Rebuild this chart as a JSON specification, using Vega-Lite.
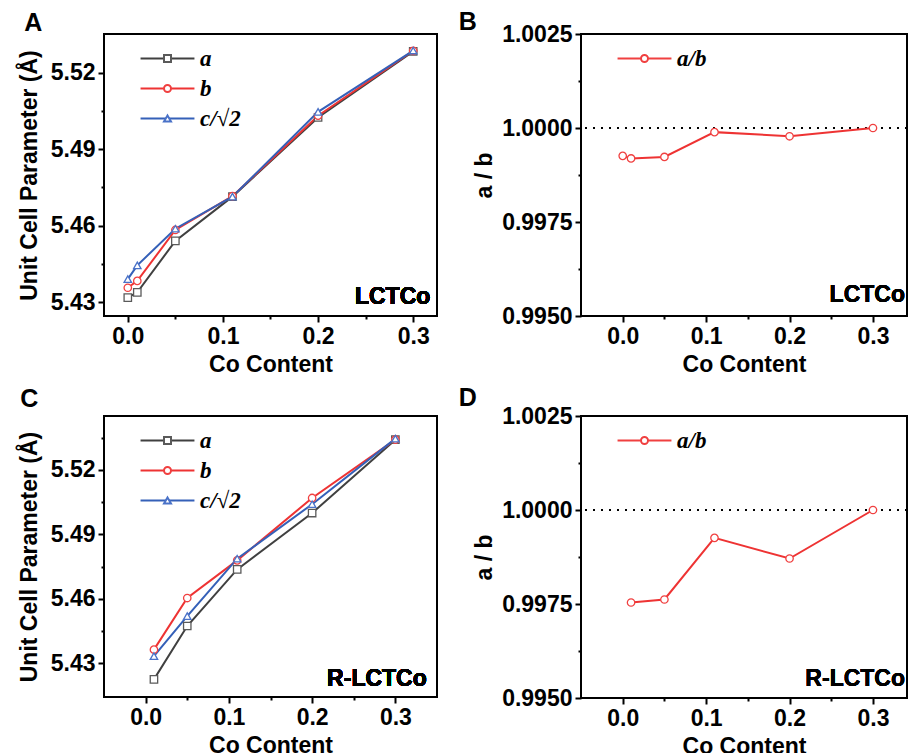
{
  "$schema": "https://vega.github.io/schema/vega-lite/v6.json",
  "padding": {"left": 17, "top": 9, "right": 0, "bottom": 0},
  "config": {
    "font": "Liberation Sans",
    "view": {"stroke": "black", "strokeWidth": 2},
    "axis": {"domain": false, "grid": false, "tickColor": "black", "tickWidth": 2, "tickSize": 6,
      "labelFont": "Liberation Sans", "labelFontSize": 23, "labelFontWeight": "bold", "labelColor": "black", "labelPadding": 3,
      "labelFlush": false, "labelOverlap": false,
      "titleFont": "Liberation Sans", "titleFontSize": 23, "titleFontWeight": "bold", "titleColor": "black"},
    "title": {"font": "Liberation Sans", "fontSize": 25, "fontWeight": "bold", "color": "black", "anchor": "start", "frame": "bounds"},
    "legend": {"orient": "none", "legendX": 52, "legendY": 13, "title": null, "labelFont": "Liberation Serif", "labelFontStyle": "italic",
      "labelFontWeight": "bold", "labelFontSize": 23, "labelColor": "black", "symbolSize": 49, "labelOffset": 21, "rowPadding": 6,
      "padding": 0, "symbolStrokeWidth": 2}
  },
  "datasets": {
    "lctco": [
      {"co": 0, "param": "a", "value": 5.4317}, {"co": 0.01, "param": "a", "value": 5.4338}, {"co": 0.05, "param": "a", "value": 5.454},
      {"co": 0.11, "param": "a", "value": 5.4714}, {"co": 0.2, "param": "a", "value": 5.5025}, {"co": 0.3, "param": "a", "value": 5.5285},
      {"co": 0, "param": "b", "value": 5.4356}, {"co": 0.01, "param": "b", "value": 5.4383}, {"co": 0.05, "param": "b", "value": 5.4583},
      {"co": 0.11, "param": "b", "value": 5.4716}, {"co": 0.2, "param": "b", "value": 5.5032}, {"co": 0.3, "param": "b", "value": 5.5287},
      {"co": 0, "param": "c/√2", "value": 5.439}, {"co": 0.01, "param": "c/√2", "value": 5.4444}, {"co": 0.05, "param": "c/√2", "value": 5.4588},
      {"co": 0.11, "param": "c/√2", "value": 5.4714}, {"co": 0.2, "param": "c/√2", "value": 5.5047}, {"co": 0.3, "param": "c/√2", "value": 5.5288}
    ],
    "rlctco": [
      {"co": 0.01, "param": "a", "value": 5.4226}, {"co": 0.05, "param": "a", "value": 5.4474}, {"co": 0.11, "param": "a", "value": 5.4737},
      {"co": 0.2, "param": "a", "value": 5.4999}, {"co": 0.3, "param": "a", "value": 5.534},
      {"co": 0.01, "param": "b", "value": 5.4364}, {"co": 0.05, "param": "b", "value": 5.4604}, {"co": 0.11, "param": "b", "value": 5.4779},
      {"co": 0.2, "param": "b", "value": 5.5069}, {"co": 0.3, "param": "b", "value": 5.534},
      {"co": 0.01, "param": "c/√2", "value": 5.4334}, {"co": 0.05, "param": "c/√2", "value": 5.452}, {"co": 0.11, "param": "c/√2", "value": 5.4787},
      {"co": 0.2, "param": "c/√2", "value": 5.504}, {"co": 0.3, "param": "c/√2", "value": 5.5345}
    ],
    "ratioA": [
      {"co": 0, "ratio": 0.99926}, {"co": 0.01, "ratio": 0.99919}, {"co": 0.05, "ratio": 0.99923},
      {"co": 0.11, "ratio": 0.99989}, {"co": 0.2, "ratio": 0.99978}, {"co": 0.3, "ratio": 1.0}
    ],
    "ratioR": [
      {"co": 0.01, "ratio": 0.99754}, {"co": 0.05, "ratio": 0.99762},
      {"co": 0.11, "ratio": 0.99926}, {"co": 0.2, "ratio": 0.99871}, {"co": 0.3, "ratio": 1.0}
    ]
  },
  "resolve": {"scale": {"x": "independent", "y": "independent", "color": "independent", "stroke": "independent", "shape": "independent"}, "legend": {"color": "independent", "stroke": "independent", "shape": "independent"}},
  "spacing": 8,
  "vconcat": [
    {
      "spacing": 19,
      "resolve": {"scale": {"x": "independent", "y": "independent", "color": "independent", "stroke": "independent", "shape": "independent"}, "legend": {"color": "independent", "stroke": "independent", "shape": "independent"}},
      "hconcat": [
        {
          "width": 333, "height": 282,
          "title": {"text": "A", "dx": 6, "offset": -2},
          "data": {"name": "lctco"},
          "encoding": {
            "x": {"field": "co", "type": "quantitative", "scale": {"domain": [-0.025, 0.325], "nice": false, "zero": false},
              "axis": {"title": "Co Content", "titlePadding": 5, "values": [0, 0.05, 0.1, 0.15, 0.2, 0.25, 0.3],
                "labelExpr": "round(datum.value*100) % 10 == 0 ? format(datum.value, '.1f') : ''",
                "tickSize": {"condition": {"test": "round(datum.value*100) % 10 != 0", "value": 3}, "value": 6}}},
            "y": {"field": "value", "type": "quantitative", "scale": {"domain": [5.4245, 5.5353], "nice": false, "zero": false},
              "axis": {"title": "Unit Cell Parameter (Å)", "titlePadding": 9, "values": [5.43, 5.445, 5.46, 5.475, 5.49, 5.505, 5.52],
                "labelExpr": "round(datum.value*1000) % 30 == 0 ? format(datum.value, '.2f') : ''",
                "tickSize": {"condition": {"test": "round(datum.value*1000) % 30 != 0", "value": 3}, "value": 6}}}
          },
          "layer": [
            {"mark": {"type": "line", "strokeWidth": 2},
              "encoding": {"color": {"field": "param", "type": "nominal", "scale": {"range": ["#404040", "#ee3333", "#3560b8"]},
                "legend": {"symbolType": "M-7.7,0H7.7"}}}},
            {"mark": {"type": "point", "filled": true, "fill": "white", "size": 55, "strokeWidth": 1.3, "opacity": 1},
              "encoding": {
                "shape": {"field": "param", "type": "nominal", "scale": {"domain": ["a", "b", "c/√2"], "range": ["square", "circle", "triangle-up"]}, "legend": {"labelOpacity": 0}},
                "stroke": {"field": "param", "type": "nominal", "scale": {"domain": ["a", "b", "c/√2"], "range": ["#5a5a5a", "#f04040", "#4a72c8"]}, "legend": {"labelOpacity": 0}}
              }},
            {"mark": {"type": "text", "align": "right", "baseline": "alphabetic", "fontSize": 23, "fontWeight": "bold", "color": "black"},
              "encoding": {"x": {"datum": 0.318}, "y": {"datum": 5.4292}, "text": {"value": "LCTCo"}}}
          ]
        },
        {
          "width": 326, "height": 282,
          "title": {"text": "B", "dx": -15, "offset": -12},
          "data": {"name": "ratioA"},
          "encoding": {
            "x": {"field": "co", "type": "quantitative", "scale": {"domain": [-0.05, 0.3408], "nice": false, "zero": false},
              "axis": {"title": "Co Content", "titlePadding": 5, "values": [0, 0.05, 0.1, 0.15, 0.2, 0.25, 0.3],
                "labelExpr": "round(datum.value*100) % 10 == 0 ? format(datum.value, '.1f') : ''",
                "tickSize": {"condition": {"test": "round(datum.value*100) % 10 != 0", "value": 3}, "value": 6}}},
            "y": {"field": "ratio", "type": "quantitative", "scale": {"domain": [0.995, 1.0025], "nice": false, "zero": false},
              "axis": {"title": "a / b", "titlePadding": 5, "values": [0.995, 0.99625, 0.9975, 0.99875, 1.0, 1.00125, 1.0025],
                "labelExpr": "round(datum.value*10000) % 25 == 0 ? format(datum.value, '.4f') : ''",
                "tickSize": {"condition": {"test": "round(datum.value*10000) % 25 != 0", "value": 3}, "value": 6}}}
          },
          "layer": [
            {"mark": {"type": "rule", "strokeDash": [2, 6], "color": "black", "strokeWidth": 2},
              "encoding": {"y": {"datum": 1.0, "type": "quantitative"}, "x": null}},
            {"mark": {"type": "line", "strokeWidth": 2, "color": "#ee3333"}, "encoding": {}},
            {"mark": {"type": "point", "filled": true, "fill": "white", "size": 55, "strokeWidth": 1.3, "opacity": 1, "shape": "circle"},
              "encoding": {
                "stroke": {"datum": "a/b", "type": "nominal", "scale": {"domain": ["a/b"], "range": ["#f04040"]},
                  "legend": {"symbolType": "M-7.7,0H-1M1,0H7.7M1,0A1,1,0,1,1,-1,0A1,1,0,1,1,1,0Z", "symbolFillColor": "white"}}
              }},
            {"mark": {"type": "text", "align": "right", "baseline": "alphabetic", "fontSize": 23, "fontWeight": "bold", "color": "black"},
              "encoding": {"x": {"datum": 0.3384}, "y": {"datum": 0.99537}, "text": {"value": "LCTCo"}}}
          ]
        }
      ]
    },
    {
      "spacing": 19,
      "resolve": {"scale": {"x": "independent", "y": "independent", "color": "independent", "stroke": "independent", "shape": "independent"}, "legend": {"color": "independent", "stroke": "independent", "shape": "independent"}},
      "hconcat": [
        {
          "width": 333, "height": 281,
          "title": {"text": "C", "dx": 2, "offset": 4},
          "data": {"name": "rlctco"},
          "encoding": {
            "x": {"field": "co", "type": "quantitative", "scale": {"domain": [-0.05, 0.35], "nice": false, "zero": false},
              "axis": {"title": "Co Content", "titlePadding": 5, "values": [0, 0.05, 0.1, 0.15, 0.2, 0.25, 0.3],
                "labelExpr": "round(datum.value*100) % 10 == 0 ? format(datum.value, '.1f') : ''",
                "tickSize": {"condition": {"test": "round(datum.value*100) % 10 != 0", "value": 3}, "value": 6}}},
            "y": {"field": "value", "type": "quantitative", "scale": {"domain": [5.4144, 5.545], "nice": false, "zero": false},
              "axis": {"title": "Unit Cell Parameter (Å)", "titlePadding": 9, "values": [5.43, 5.445, 5.46, 5.475, 5.49, 5.505, 5.52, 5.535],
                "labelExpr": "round(datum.value*1000) % 30 == 0 ? format(datum.value, '.2f') : ''",
                "tickSize": {"condition": {"test": "round(datum.value*1000) % 30 != 0", "value": 3}, "value": 6}}}
          },
          "layer": [
            {"mark": {"type": "line", "strokeWidth": 2},
              "encoding": {"color": {"field": "param", "type": "nominal", "scale": {"range": ["#404040", "#ee3333", "#3560b8"]},
                "legend": {"symbolType": "M-7.7,0H7.7"}}}},
            {"mark": {"type": "point", "filled": true, "fill": "white", "size": 55, "strokeWidth": 1.3, "opacity": 1},
              "encoding": {
                "shape": {"field": "param", "type": "nominal", "scale": {"domain": ["a", "b", "c/√2"], "range": ["square", "circle", "triangle-up"]}, "legend": {"labelOpacity": 0}},
                "stroke": {"field": "param", "type": "nominal", "scale": {"domain": ["a", "b", "c/√2"], "range": ["#5a5a5a", "#f04040", "#4a72c8"]}, "legend": {"labelOpacity": 0}}
              }},
            {"mark": {"type": "text", "align": "right", "baseline": "alphabetic", "fontSize": 23, "fontWeight": "bold", "color": "black"},
              "encoding": {"x": {"datum": 0.3377}, "y": {"datum": 5.4196}, "text": {"value": "R-LCTCo"}}}
          ]
        },
        {
          "width": 326, "height": 282,
          "title": {"text": "D", "dx": -15, "offset": -6},
          "data": {"name": "ratioR"},
          "encoding": {
            "x": {"field": "co", "type": "quantitative", "scale": {"domain": [-0.05, 0.3408], "nice": false, "zero": false},
              "axis": {"title": "Co Content", "titlePadding": 5, "values": [0, 0.05, 0.1, 0.15, 0.2, 0.25, 0.3],
                "labelExpr": "round(datum.value*100) % 10 == 0 ? format(datum.value, '.1f') : ''",
                "tickSize": {"condition": {"test": "round(datum.value*100) % 10 != 0", "value": 3}, "value": 6}}},
            "y": {"field": "ratio", "type": "quantitative", "scale": {"domain": [0.995, 1.0025], "nice": false, "zero": false},
              "axis": {"title": "a / b", "titlePadding": 5, "values": [0.995, 0.99625, 0.9975, 0.99875, 1.0, 1.00125, 1.0025],
                "labelExpr": "round(datum.value*10000) % 25 == 0 ? format(datum.value, '.4f') : ''",
                "tickSize": {"condition": {"test": "round(datum.value*10000) % 25 != 0", "value": 3}, "value": 6}}}
          },
          "layer": [
            {"mark": {"type": "rule", "strokeDash": [2, 6], "color": "black", "strokeWidth": 2},
              "encoding": {"y": {"datum": 1.0, "type": "quantitative"}, "x": null}},
            {"mark": {"type": "line", "strokeWidth": 2, "color": "#ee3333"}, "encoding": {}},
            {"mark": {"type": "point", "filled": true, "fill": "white", "size": 55, "strokeWidth": 1.3, "opacity": 1, "shape": "circle"},
              "encoding": {
                "stroke": {"datum": "a/b", "type": "nominal", "scale": {"domain": ["a/b"], "range": ["#f04040"]},
                  "legend": {"symbolType": "M-7.7,0H-1M1,0H7.7M1,0A1,1,0,1,1,-1,0A1,1,0,1,1,1,0Z", "symbolFillColor": "white"}}
              }},
            {"mark": {"type": "text", "align": "right", "baseline": "alphabetic", "fontSize": 23, "fontWeight": "bold", "color": "black"},
              "encoding": {"x": {"datum": 0.3384}, "y": {"datum": 0.99533}, "text": {"value": "R-LCTCo"}}}
          ]
        }
      ]
    }
  ]
}
